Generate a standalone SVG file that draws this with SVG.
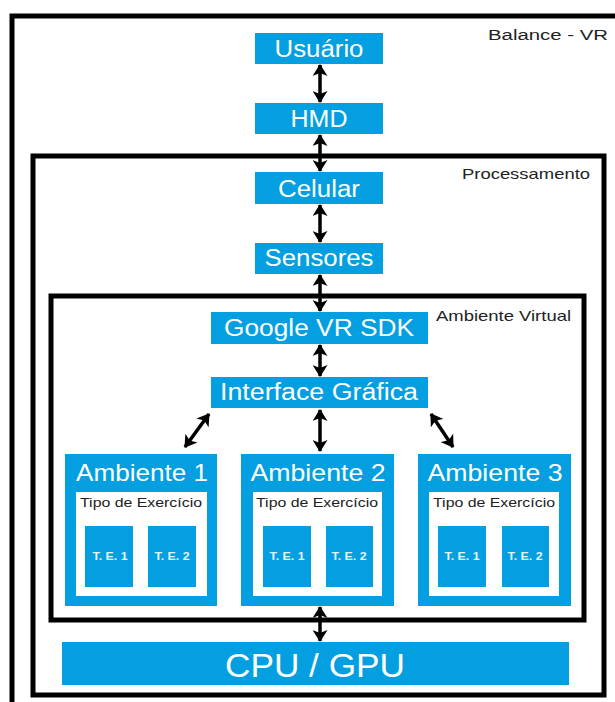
<svg xmlns="http://www.w3.org/2000/svg" width="615" height="702" viewBox="0 0 615 702">
<defs>
<marker id="ah" viewBox="0 0 12 15" refX="11" refY="7.5" markerWidth="12" markerHeight="15" orient="auto-start-reverse" markerUnits="userSpaceOnUse">
<path d="M0,0 L12,7.5 L0,15 L3,7.5 Z" fill="#000"/>
</marker>
<style>
.frame{fill:none;stroke:#000;stroke-width:5}
.blue{fill:#039FE0}
.white{fill:#fff}
.lbl{font-family:"Liberation Sans",Arial,sans-serif;fill:#fff;text-anchor:middle}
.te{font-family:"Liberation Sans",Arial,sans-serif;fill:#fff;text-anchor:middle;font-weight:bold;font-size:10.5px;opacity:0.9}
.cap{font-family:"Liberation Sans",Arial,sans-serif;fill:#222}
.conn{stroke:#000;stroke-width:3.5;fill:none;marker-start:url(#ah);marker-end:url(#ah)}
</style>
</defs>
<rect width="615" height="702" fill="#fff"/>

<g id="balance-vr">
<rect class="frame" x="12" y="16" width="615" height="700"/>
<text class="cap" x="488" y="40" font-size="15.5" textLength="120" lengthAdjust="spacingAndGlyphs">Balance - VR</text>
</g>
<g id="processamento">
<rect class="frame" x="33" y="156" width="571" height="539"/>
<text class="cap" x="462" y="179" font-size="14.5" textLength="128" lengthAdjust="spacingAndGlyphs">Processamento</text>
</g>
<g id="ambiente-virtual">
<rect class="frame" x="51" y="296" width="533" height="324"/>
<text class="cap" x="436" y="321" font-size="14.5" textLength="135" lengthAdjust="spacingAndGlyphs">Ambiente Virtual</text>
</g>

<g id="usuario">
<rect class="blue" x="255" y="33" width="128" height="31"/>
<text class="lbl" x="319" y="57" font-size="23" textLength="89" lengthAdjust="spacingAndGlyphs">Usuário</text>
</g>
<g id="hmd">
<rect class="blue" x="255" y="103" width="128" height="31"/>
<text class="lbl" x="319" y="127" font-size="23" textLength="57" lengthAdjust="spacingAndGlyphs">HMD</text>
</g>
<g id="celular">
<rect class="blue" x="255" y="172" width="128" height="32"/>
<text class="lbl" x="319" y="197" font-size="23" textLength="82" lengthAdjust="spacingAndGlyphs">Celular</text>
</g>
<g id="sensores">
<rect class="blue" x="255" y="243" width="128" height="31"/>
<text class="lbl" x="319" y="266" font-size="23" textLength="109" lengthAdjust="spacingAndGlyphs">Sensores</text>
</g>
<g id="google-vr-sdk">
<rect class="blue" x="211" y="312" width="217" height="32"/>
<text class="lbl" x="319" y="336" font-size="23" textLength="190" lengthAdjust="spacingAndGlyphs">Google VR SDK</text>
</g>
<g id="interface-grafica">
<rect class="blue" x="211" y="377" width="217" height="31"/>
<text class="lbl" x="319" y="400" font-size="23" textLength="198" lengthAdjust="spacingAndGlyphs">Interface Gráfica</text>
</g>

<g id="ambiente-1">
<rect class="blue" x="65" y="454" width="152" height="152"/>
<text class="lbl" x="142" y="481" font-size="24" textLength="132" lengthAdjust="spacingAndGlyphs">Ambiente 1</text>
<rect class="white" x="76" y="492" width="131" height="104"/>
<text class="cap" x="141" y="507" font-size="12" text-anchor="middle" textLength="122" lengthAdjust="spacingAndGlyphs">Tipo de Exercício</text>
<rect class="blue" x="85" y="526" width="48" height="61"/>
<text class="te" x="110" y="560" textLength="35" lengthAdjust="spacingAndGlyphs">T. E. 1</text>
<rect class="blue" x="148" y="526" width="48" height="61"/>
<text class="te" x="172" y="560" textLength="35" lengthAdjust="spacingAndGlyphs">T. E. 2</text>
</g>
<g id="ambiente-2">
<rect class="blue" x="241" y="454" width="153" height="152"/>
<text class="lbl" x="318" y="481" font-size="24" textLength="135" lengthAdjust="spacingAndGlyphs">Ambiente 2</text>
<rect class="white" x="253" y="492" width="129" height="104"/>
<text class="cap" x="317" y="507" font-size="12" text-anchor="middle" textLength="122" lengthAdjust="spacingAndGlyphs">Tipo de Exercício</text>
<rect class="blue" x="263" y="526" width="48" height="61"/>
<text class="te" x="287" y="560" textLength="35" lengthAdjust="spacingAndGlyphs">T. E. 1</text>
<rect class="blue" x="326" y="526" width="47" height="61"/>
<text class="te" x="349" y="560" textLength="35" lengthAdjust="spacingAndGlyphs">T. E. 2</text>
</g>
<g id="ambiente-3">
<rect class="blue" x="418" y="454" width="153" height="152"/>
<text class="lbl" x="495" y="481" font-size="24" textLength="135" lengthAdjust="spacingAndGlyphs">Ambiente 3</text>
<rect class="white" x="429" y="492" width="130" height="104"/>
<text class="cap" x="494" y="507" font-size="12" text-anchor="middle" textLength="122" lengthAdjust="spacingAndGlyphs">Tipo de Exercício</text>
<rect class="blue" x="438" y="526" width="48" height="61"/>
<text class="te" x="462" y="560" textLength="35" lengthAdjust="spacingAndGlyphs">T. E. 1</text>
<rect class="blue" x="502" y="526" width="47" height="61"/>
<text class="te" x="525" y="560" textLength="35" lengthAdjust="spacingAndGlyphs">T. E. 2</text>
</g>

<g id="cpu-gpu">
<rect class="blue" x="62" y="642" width="507" height="43"/>
<text class="lbl" x="315" y="677" font-size="34" textLength="180" lengthAdjust="spacingAndGlyphs">CPU / GPU</text>
</g>

<g id="connectors">
<line class="conn" x1="320" y1="65" x2="320" y2="102"/>
<line class="conn" x1="320" y1="135" x2="320" y2="171"/>
<line class="conn" x1="320" y1="205" x2="320" y2="242"/>
<line class="conn" x1="320" y1="275" x2="320" y2="311"/>
<line class="conn" x1="320" y1="345" x2="320" y2="376"/>
<line class="conn" x1="320" y1="410" x2="320" y2="451"/>
<line class="conn" x1="209" y1="414" x2="185" y2="447"/>
<line class="conn" x1="431" y1="414" x2="453" y2="447"/>
<line class="conn" x1="320" y1="607" x2="320" y2="641"/>
</g>
</svg>
